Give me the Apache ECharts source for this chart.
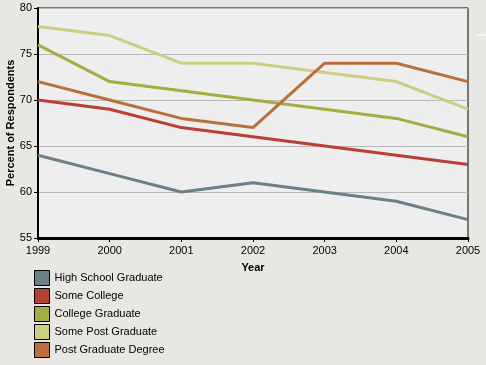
<!DOCTYPE html>
<html>
<head>
<meta charset="utf-8">
<script src="https://cdn.jsdelivr.net/npm/echarts@6/dist/echarts.min.js"></script>
<style>
html,body{margin:0;padding:0;background:#e9e7e3;}
#c{width:486px;height:365px;}
</style>
</head>
<body>
<div id="c"></div>
<script>
var years = ['1999','2000','2001','2002','2003','2004','2005'];
var seriesNames = ['High School Graduate','Some College','College Graduate','Some Post Graduate','Post Graduate Degree'];
var highSchool = [64, 62, 60, 61, 60, 59, 57];
var someCollege = [70, 69, 67, 66, 65, 64, 63];
var collegeGrad = [76, 72, 71, 70, 69, 68, 66];
var somePostGrad = [78, 77, 74, 74, 73, 72, 69];
var postGradDegree = [72, 70, 68, 67, 74, 74, 72];
var colors = ['#6d7f87','#b83f33','#a6ab42','#cdcd82','#b8703f'];

var dataSets = [highSchool, someCollege, collegeGrad, somePostGrad, postGradDegree];
var font = 'Liberation Sans, Arial, sans-serif';

var chart = echarts.init(document.getElementById('c'), null, {renderer:'canvas'});
chart.setOption({
  animation: false,
  backgroundColor: '#e9e7e3',
  color: colors,
  grid: {left: 38, right: 18, top: 8, bottom: 127, containLabel: false, outerBoundsMode: 'none',
    show: true, backgroundColor: '#eeeeee', borderColor: '#000', borderWidth: 1},
  xAxis: {
    type: 'category', data: years, boundaryGap: false,
    name: 'Year', nameLocation: 'middle', nameGap: 24, nameMoveOverlap: false,
    nameTextStyle: {fontFamily: font, fontSize: 11, fontWeight: 'bold', color: '#000'},
    axisLine: {lineStyle: {color: '#000', width: 3}},
    axisTick: {show: true, length: 4, lineStyle: {color: '#000', width: 1}},
    axisLabel: {fontFamily: font, fontSize: 11, color: '#000', margin: 7},
    splitLine: {show: false}
  },
  yAxis: {
    type: 'value', min: 55, max: 80, interval: 5,
    name: 'Percent of Respondents', nameLocation: 'middle', nameGap: 22, nameMoveOverlap: false,
    nameTextStyle: {fontFamily: font, fontSize: 11, fontWeight: 'bold', color: '#000', padding: [0, 0, 0, 0]},
    axisLine: {show: true, lineStyle: {color: '#000', width: 2}},
    axisTick: {show: true, length: 4, lineStyle: {color: '#000', width: 1}},
    axisLabel: {fontFamily: font, fontSize: 11, color: '#000', margin: 6},
    splitLine: {show: true, lineStyle: {color: '#b9b9b9', width: 1}}
  },
  legend: {
    orient: 'vertical', left: 34, top: 270, padding: 0,
    itemWidth: 15, itemHeight: 15, itemGap: 2,
    icon: 'rect',
    itemStyle: {borderColor: '#000', borderWidth: 1},
    textStyle: {fontFamily: font, fontSize: 11, lineHeight: 15, color: '#000', padding: [0,0,0,0]},
    data: seriesNames
  },
  graphic: [{type: 'line', shape: {x1: 476, y1: 35, x2: 486, y2: 35}, style: {stroke: '#ffffff', lineWidth: 1}}],
  series: dataSets.map(function (d, i) {
    return {name: seriesNames[i], type: 'line', data: d, symbol: 'none',
      lineStyle: {width: 3, color: colors[i]}, itemStyle: {color: colors[i]}};
  })
});
</script>
</body>
</html>
